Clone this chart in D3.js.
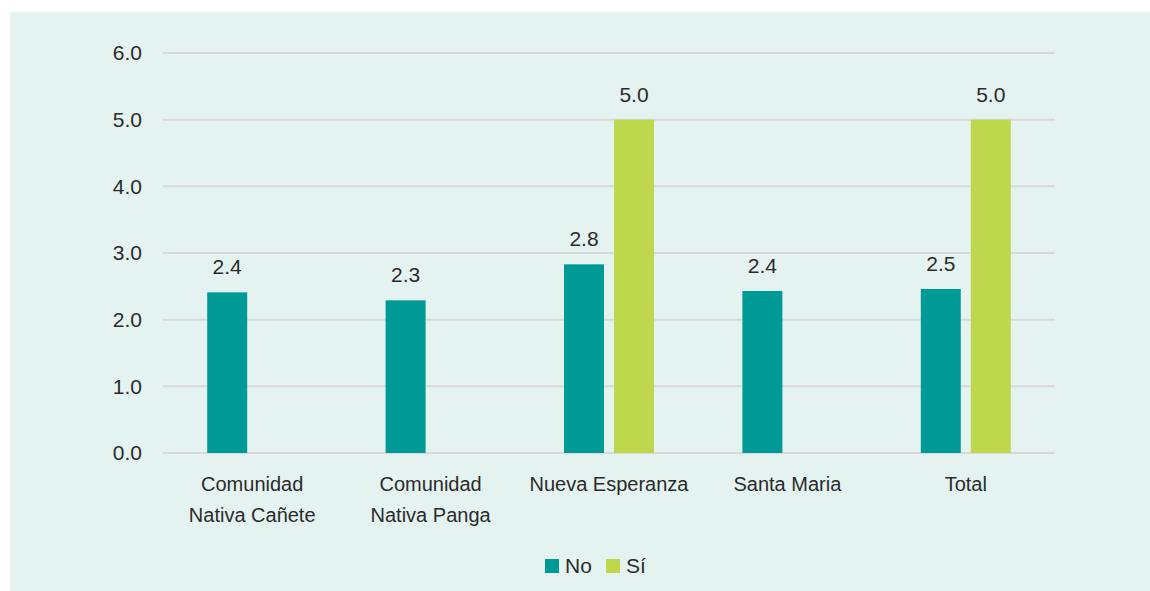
<!DOCTYPE html>
<html>
<head>
<meta charset="utf-8">
<script src="https://cdn.jsdelivr.net/npm/d3@7"></script>
<style>
  body { margin: 0; background: #ffffff; }
  svg text { font-family: "Liberation Sans", Arial, sans-serif; fill: #2b2b2b; }
</style>
</head>
<body>
<div id="chart"></div>
<script>
// data
var categories = [["Comunidad", "Nativa Cañete"], ["Comunidad", "Nativa Panga"], ["Nueva Esperanza"], ["Santa Maria"], ["Total"]];
var seriesNames = ["No", "Sí"];
var valuesNo = [2.41, 2.29, 2.83, 2.43, 2.46];
var valuesSi = [null, null, 5.0, null, 5.0];
var yTicks = [0, 1, 2, 3, 4, 5, 6];

var colors = { "No": "#009a96", "Sí": "#bed74c" };

var width = 1150, height = 591;
var margin = { top: 53, right: 95, bottom: 138, left: 163 };
var chartWidth = width - margin.left - margin.right;
var chartHeight = height - margin.top - margin.bottom;

var svg = d3.select("#chart").append("svg")
    .attr("width", width)
    .attr("height", height);

// panel background
svg.append("rect")
    .attr("x", 10).attr("y", 12)
    .attr("width", width - 10).attr("height", height - 12)
    .attr("fill", "#e5f3f0");

var g = svg.append("g")
    .attr("transform", `translate(${margin.left}, ${margin.top})`);

var rows = categories.map(function(c, i) {
    return { cat: i, No: valuesNo[i], "Sí": valuesSi[i] };
});

var x0 = d3.scaleBand()
    .domain(d3.range(categories.length))
    .range([0, chartWidth])
    .padding(0);

var x1 = d3.scaleBand()
    .domain(seriesNames)
    .range([-45, 45])
    .paddingInner(0.2);

var y = d3.scaleLinear()
    .domain([0, 6])
    .range([chartHeight, 0]);

// gridlines
g.append("g").selectAll("line")
    .data(yTicks)
    .enter()
    .append("line")
    .attr("x1", 0).attr("x2", chartWidth)
    .attr("y1", d => y(d)).attr("y2", d => y(d))
    .attr("stroke", "#d9d9d9")
    .attr("stroke-width", 2);

// y axis labels
var yAxis = d3.axisLeft(y).tickValues(yTicks).tickFormat(d3.format(".1f")).tickSize(0).tickPadding(21);
var yAxisG = g.append("g").call(yAxis);
yAxisG.select(".domain").remove();
yAxisG.selectAll("text")
    .attr("font-size", 21)
    .attr("font-family", null)
    .attr("fill", "#2b2b2b");

// bars
var groups = g.append("g").selectAll("g")
    .data(rows)
    .enter()
    .append("g")
    .attr("transform", d => `translate(${x0(d.cat) + x0.bandwidth() / 2}, 0)`);

var barData = function(d) {
    return seriesNames.filter(k => d[k] != null).map(k => ({ key: k, value: d[k] }));
};

groups.selectAll("rect")
    .data(barData)
    .enter()
    .append("rect")
    .attr("x", d => x1(d.key))
    .attr("width", x1.bandwidth())
    .attr("y", d => y(d.value))
    .attr("height", d => y(0) - y(d.value))
    .attr("fill", d => colors[d.key]);

groups.selectAll("text.val")
    .data(barData)
    .enter()
    .append("text")
    .attr("class", "val")
    .attr("x", d => x1(d.key) + x1.bandwidth() / 2)
    .attr("y", d => y(d.value) - 18)
    .attr("text-anchor", "middle")
    .attr("font-size", 21)
    .text(d => d3.format(".1f")(d.value));

// category labels
var catText = g.append("g").selectAll("text")
    .data(categories)
    .enter()
    .append("text")
    .attr("x", (d, i) => x0(i) + x0.bandwidth() / 2)
    .attr("y", chartHeight + 38)
    .attr("text-anchor", "middle")
    .attr("font-size", 20);

catText.selectAll("tspan")
    .data(d => d)
    .enter()
    .append("tspan")
    .attr("x", function() { return this.parentNode.getAttribute("x"); })
    .attr("dy", (d, i) => i === 0 ? 0 : 31)
    .text(d => d);

// legend
var legend = svg.append("g")
    .attr("transform", "translate(545, 559)");

var legendItems = legend.selectAll("g")
    .data(seriesNames)
    .enter()
    .append("g")
    .attr("transform", (d, i) => `translate(${i * 61}, 0)`);

legendItems.append("rect")
    .attr("width", 14).attr("height", 14)
    .attr("fill", d => colors[d]);

legendItems.append("text")
    .attr("x", 20)
    .attr("y", 14)
    .attr("font-size", 21)
    .text(d => d);
</script>
</body>
</html>
